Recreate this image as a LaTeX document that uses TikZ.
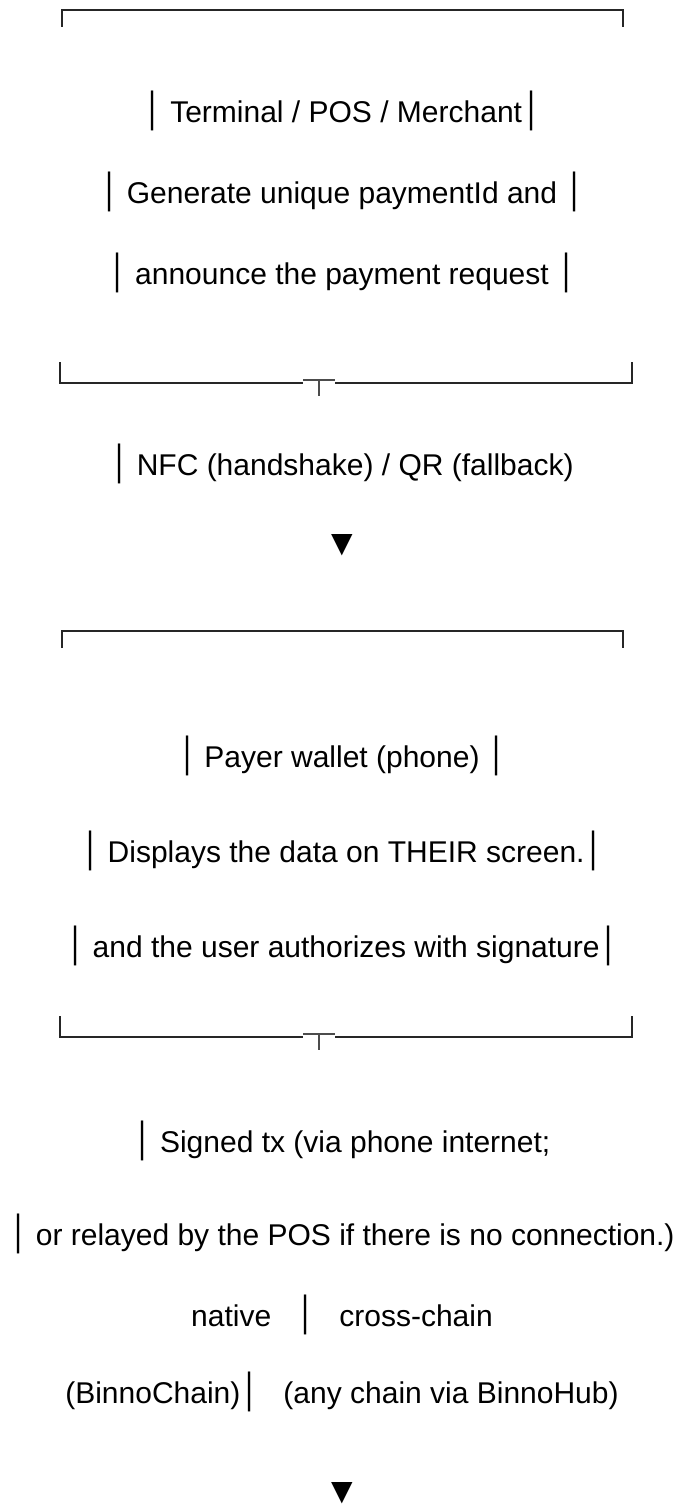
\documentclass[tikz,border=0pt]{standalone}
\usepackage{graphicx}
\usepackage{fontspec}
\setmainfont{Liberation Sans}
\newfontfamily\boxfont{DejaVu Sans}
\newcommand{\vb}{{\boxfont\scalebox{1}[1.12]{│}}}
\usetikzlibrary{positioning}

\begin{document}
\begin{tikzpicture}[x=1pt,y=-1pt,node distance=81pt,
    txt/.style={inner sep=0pt,font=\fontsize{30}{36}\selectfont},
    tip/.style={inner sep=0pt,font=\boxfont\fontsize{28}{32}\selectfont},
    frame/.style={line width=1.6pt,color=black!85},
    tee/.style={line width=1.1pt,color=black!70}]

    \useasboundingbox (0,0) rectangle (680,1512);

    % POS block
    \node[txt] (pos1) at (342,111) {\vb{} Terminal / POS / Merchant\vb};
    \node[txt] (pos2) [below of = pos1] {\vb{} Generate unique paymentId and \vb};
    \node[txt] (pos3) [below of = pos2] {\vb{} announce the payment request \vb};
    \node[txt] (nfc) [below of = pos3, yshift = -110] {\vb{} NFC (handshake) / QR (fallback)};
    \node[tip] (tip1) [below of = nfc, yshift = 0] {▼};

    % wallet block
    \node[txt] (wal1) [below of = tip1, yshift = -130] {\vb{} Payer wallet (phone) \vb};
    \node[txt] (wal2) [below of = wal1, yshift = -14] {\vb{} Displays the data on THEIR screen.\vb};
    \node[txt] (wal3) [below of = wal2, yshift = -14] {\vb{} and the user authorizes with signature\vb};
    \node[txt] (sig1) [below of = wal3, yshift = -114] {\vb{} Signed tx (via phone internet;};
    \node[txt] (sig2) [below of = sig1, yshift = -12] {\vb{} or relayed by the POS if there is no connection.)};
    \node[txt] (nat) [below of = sig2] {native \ \ \vb\ \ \ cross-chain};
    \node[txt] (hub) [below of = nat, yshift = 4] {(BinnoChain)\vb\ \ \ (any chain via BinnoHub)};
    \node[tip] (tip2) [below of = hub, yshift = -20] {▼};

    % box corners
    \coordinate (a1) at (62,27);   \coordinate (a2) at (62,10);
    \coordinate (a3) at (623,10);  \coordinate (a4) at (623,27);
    \coordinate (b1) at (60,362);  \coordinate (b2) at (60,383);
    \coordinate (b3) at (632,383); \coordinate (b4) at (632,362);
    \coordinate (c1) at (62,648);  \coordinate (c2) at (62,631);
    \coordinate (c3) at (623,631); \coordinate (c4) at (623,648);
    \coordinate (d1) at (60,1016); \coordinate (d2) at (60,1037);
    \coordinate (d3) at (632,1037);\coordinate (d4) at (632,1016);
    % tee pieces
    \coordinate (bt) at (319,380); \coordinate (bs) at (319,396);
    \coordinate (dt) at (319,1034); \coordinate (ds) at (319,1050);

    \draw[frame] (a1) -- (a2) -- (a3) -- (a4);
    \draw[frame] (c1) -- (c2) -- (c3) -- (c4);
    \draw[frame] (b1) -- (b2) -- ([xshift=-16pt]b2 -| bt);
    \draw[frame] ([xshift=16pt]b2 -| bt) -- (b3) -- (b4);
    \draw[tee] ([xshift=-16pt]bt) -- ([xshift=16pt]bt) (bt) -- (bs);
    \draw[frame] (d1) -- (d2) -- ([xshift=-16pt]d2 -| dt);
    \draw[frame] ([xshift=16pt]d2 -| dt) -- (d3) -- (d4);
    \draw[tee] ([xshift=-16pt]dt) -- ([xshift=16pt]dt) (dt) -- (ds);
\end{tikzpicture}
\end{document}
